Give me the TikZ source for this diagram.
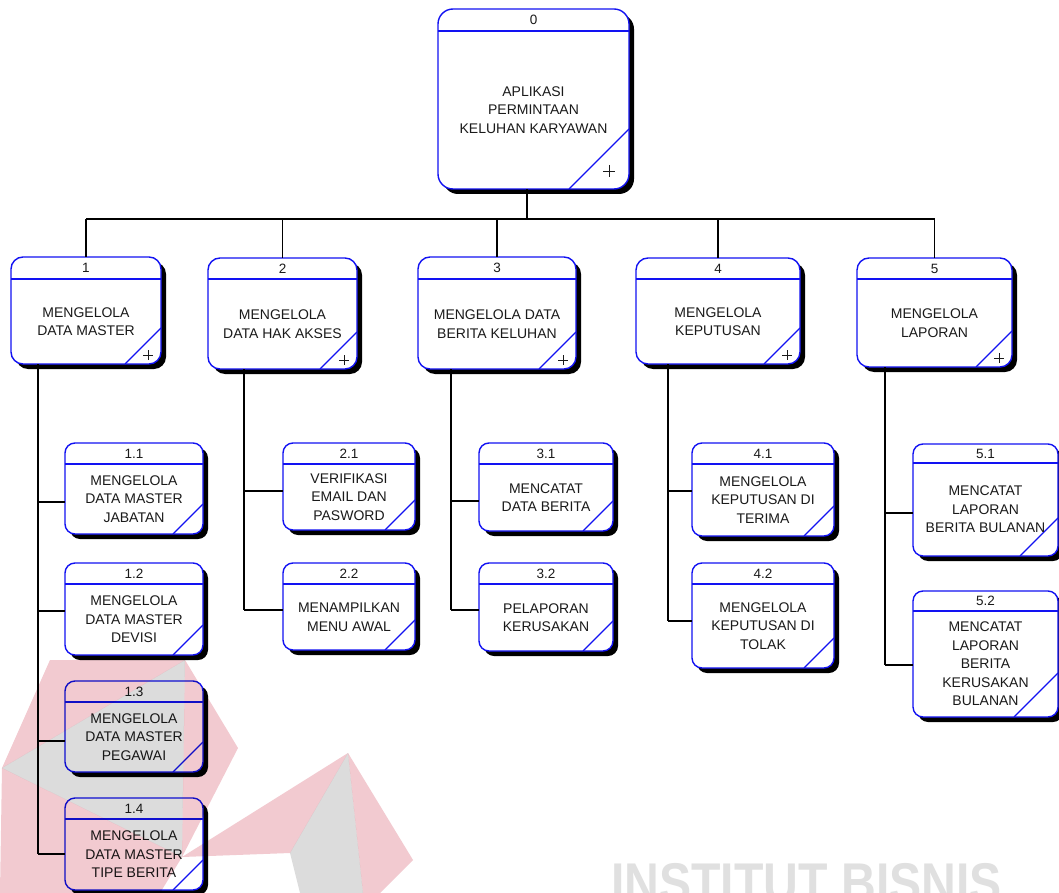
\documentclass[tikz,border=0pt]{standalone}
\usepackage{fontspec}
\setmainfont{Liberation Sans}
\usetikzlibrary{calc,shadows}

\definecolor{procblue}{HTML}{1212F2}
\definecolor{inktext}{HTML}{1A1A1A}
\definecolor{wmred}{HTML}{F2CAD0}
\definecolor{wmgrey}{HTML}{DCDCDC}
\definecolor{wmtext}{HTML}{E0E0E0}

\def\procR{12pt}

\tikzset{
  procshape/.style={draw=procblue, line width=1.4pt, fill=white,
    rounded corners=\procR, inner sep=0pt, outer sep=0pt,
    drop shadow={shadow xshift=5pt, shadow yshift=-5pt, fill=black, opacity=1}},
  procrule/.style={draw=procblue, line width=1.2pt},
  procnum/.style={text=inktext, font=\fontsize{13.5}{15}\selectfont, inner sep=0pt},
  proctext/.style={text=inktext, font=\fontsize{14}{18.5}\selectfont, align=center, inner sep=0pt},
  plusline/.style={draw=inktext, line width=0.8pt},
  link/.style={draw=black, line width=1.2pt},
  emblem/.style={blend mode=multiply},
}

% \procnode{name}{x1}{y1}{x2}{y2}{number}{text}{diagonal}{header height}
\newcommand\procnode[9]{%
  \node[procshape, minimum width={(#4)-(#2)}, minimum height={(#5)-(#3)}]
    (#1) at ({((#2)+(#4))/2},{((#3)+(#5))/2}) {};
  \draw[procrule] ([yshift=-#9pt]#1.north west) -- ([yshift=-#9pt]#1.north east);
  \draw[procrule] ([xshift=-#8pt]#1.south east) -- ([yshift=#8pt]#1.south east);
  \node[procnum] (#1n) at ($(#1.north)!0.5!([yshift=-#9pt]#1.north)$) {#6};
  \node[proctext] (#1t) at ($(#1.south)!0.5!([yshift=-#9pt]#1.north)$) {#7};
}

% \plusmark{name}{dx}{dy}{arm}
\newcommand\plusmark[4]{%
  \draw[plusline] ([xshift=#2pt,yshift=#3pt]#1.south east)
    +(-#4,0) -- +(#4,0) +(0,-#4) -- +(0,#4);
}

\begin{document}
\begin{tikzpicture}[x=1pt,y=-1pt]
\fill[white] (0,0) rectangle (1059,893);
\useasboundingbox (0,0) rectangle (1059,893);

% top process
\def\procR{15pt}
\procnode{P0}{438}{9}{629}{189}{0}{APLIKASI\\PERMINTAAN\\KELUHAN KARYAWAN}{60}{22}
\plusmark{P0}{-20}{18}{6}

% first level
\def\procR{12pt}
\procnode{P1}{11}{257}{161}{364}{1}{MENGELOLA\\DATA MASTER}{36}{22}
\procnode{P2}{208}{258}{357}{369}{2}{MENGELOLA\\DATA HAK AKSES}{37}{21}
\procnode{P3}{418}{257}{576}{369}{3}{MENGELOLA DATA\\BERITA KELUHAN}{37}{22}
\procnode{P4}{636}{258}{800}{364}{4}{MENGELOLA\\KEPUTUSAN}{36}{21}
\procnode{P5}{857}{258}{1012}{367}{5}{MENGELOLA\\LAPORAN}{36}{21}
\foreach \n in {P1,P2,P3,P4,P5} {\plusmark{\n}{-13}{9}{5}}

% second level
\def\procR{10pt}
\procnode{P11}{65}{443}{203}{534}{1.1}{MENGELOLA\\DATA MASTER\\JABATAN}{30}{21}
\procnode{P12}{65}{563}{203}{655}{1.2}{MENGELOLA\\DATA MASTER\\DEVISI}{30}{21}
\procnode{P13}{65}{681}{203}{772}{1.3}{MENGELOLA\\DATA MASTER\\PEGAWAI}{30}{21}
\procnode{P14}{65}{798}{203}{890}{1.4}{MENGELOLA\\DATA MASTER\\TIPE BERITA}{30}{21}
\procnode{P21}{283}{443}{415}{530}{2.1}{VERIFIKASI\\EMAIL DAN\\PASWORD}{30}{21}
\procnode{P22}{283}{563}{415}{650}{2.2}{MENAMPILKAN\\MENU AWAL}{30}{21}
\procnode{P31}{479}{443}{613}{531}{3.1}{MENCATAT\\DATA BERITA}{30}{21}
\procnode{P32}{479}{563}{613}{651}{3.2}{PELAPORAN\\KERUSAKAN}{30}{21}
\procnode{P41}{692}{443}{834}{536}{4.1}{MENGELOLA\\KEPUTUSAN DI\\TERIMA}{30}{21}
\procnode{P42}{692}{563}{834}{668}{4.2}{MENGELOLA\\KEPUTUSAN DI\\TOLAK}{30}{21}
\procnode{P51}{913}{444}{1058}{556}{5.1}{MENCATAT\\LAPORAN\\BERITA BULANAN}{38}{19}
\procnode{P52}{913}{591}{1058}{717}{5.2}{MENCATAT\\LAPORAN\\BERITA\\KERUSAKAN\\BULANAN}{44}{20}

% connectors: top bus
\coordinate (bus0) at (527,219);
\draw[link] (P0.south -| bus0) -- (bus0);
\draw[link] (P1.north |- bus0) -- (P5.north |- bus0);
\foreach \n in {P1,P2,P3,P4,P5} {\draw[link] (\n.north |- bus0) -- (\n.north);}

% connectors: branches to second level
\coordinate (b11) at (38,502);  \coordinate (b12) at (38,611);
\coordinate (b13) at (38,741);  \coordinate (b14) at (38,854);
\coordinate (b21) at (244,491); \coordinate (b22) at (244,610);
\coordinate (b31) at (451,501); \coordinate (b32) at (451,610);
\coordinate (b41) at (668,491); \coordinate (b42) at (668,621);
\coordinate (b51) at (885,513); \coordinate (b52) at (885,665);

\draw[link] (P1.south -| b11) -- (b14);
\draw[link] (P2.south -| b21) -- (b22);
\draw[link] (P3.south -| b31) -- (b32);
\draw[link] (P4.south -| b41) -- (b42);
\draw[link] (P5.south -| b51) -- (b52);
\foreach \b/\n in {b11/P11,b12/P12,b13/P13,b14/P14,b21/P21,b22/P22,
                   b31/P31,b32/P32,b41/P41,b42/P42,b51/P51,b52/P52}
  {\draw[link] (\b) -- (\b -| \n.west);}

% faint emblem laid over the lower left part
\begin{scope}[emblem]
  % left star
  \fill[wmred]  (50,660) -- (185,660) -- (2,768) -- cycle;
  \fill[wmgrey] (185,660) -- (2,768) -- (182,857) -- cycle;
  \fill[wmred]  (185,660) -- (238,748) -- (182,857) -- cycle;
  \fill[wmred]  (2,768) -- (182,857) -- (160,893) -- (0,893) -- cycle;
  % right star
  \fill[wmred]  (348,753) -- (182,857) -- (290,853) -- cycle;
  \fill[wmgrey] (348,753) -- (290,853) -- (300,893) -- (363,893) -- cycle;
  \fill[wmred]  (348,753) -- (413,860) -- (380,893) -- (363,893) -- cycle;
\end{scope}
\node[text=wmtext, font=\bfseries\fontsize{56}{56}\selectfont, xscale=0.86,
      anchor=north west, inner sep=0pt] (wm) at (611,863) {INSTITUT BISNIS};
\end{tikzpicture}
\end{document}
